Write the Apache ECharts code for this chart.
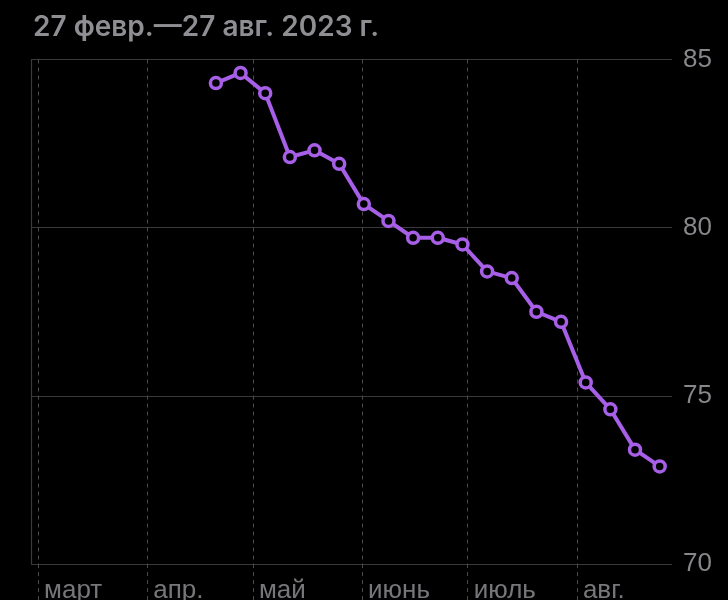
<!DOCTYPE html>
<html>
<head>
<meta charset="utf-8">
<script src="https://cdn.jsdelivr.net/npm/echarts@6/dist/echarts.min.js"></script>
<style>
html,body{margin:0;padding:0;background:#000;}
#c{width:728px;height:600px;}
</style>
</head>
<body>
<div id="c"></div>
<script>
const titleText = '27 февр.—27 авг. 2023 г.';
const monthLabels = ['янв.', 'февр.', 'март', 'апр.', 'май', 'июнь', 'июль', 'авг.', 'сент.', 'окт.', 'нояб.', 'дек.'];
const xMin = '2023-02-27 00:00';
const xMax = '2023-08-28 00:00';
const weekDates = [
  '2023-04-20 12:00', '2023-04-27 12:00', '2023-05-04 12:00', '2023-05-11 12:00',
  '2023-05-18 12:00', '2023-05-25 12:00', '2023-06-01 12:00', '2023-06-08 12:00',
  '2023-06-15 12:00', '2023-06-22 12:00', '2023-06-29 12:00', '2023-07-06 12:00',
  '2023-07-13 12:00', '2023-07-20 12:00', '2023-07-27 12:00', '2023-08-03 12:00',
  '2023-08-10 12:00', '2023-08-17 12:00', '2023-08-24 12:00'
];
const weightValues = [
  84.3, 84.6, 84.0, 82.1, 82.3, 81.9, 80.7, 80.2, 79.7, 79.7,
  79.5, 78.7, 78.5, 77.5, 77.2, 75.4, 74.6, 73.4, 72.9
];
const yTicks = [70, 75, 80, 85];

const chart = echarts.init(document.getElementById('c'), null, {renderer: 'canvas'});
const FONT = '"Liberation Sans", Arial, sans-serif';
const TFONT = 'Inter, "Liberation Sans", sans-serif';
const dashStyle = {color: '#4a4a4c', type: [4, 4], width: 1};
const baseTime = {
  type: 'time',
  min: xMin,
  max: xMax,
  splitNumber: 6,
  minInterval: 28 * 86400000,
  maxInterval: 31 * 86400000
};
chart.setOption({
  backgroundColor: '#000',
  animation: false,
  title: {
    text: titleText,
    left: 28,
    top: 9,
    textStyle: {color: '#8e8e93', fontSize: 28, fontWeight: 600, fontFamily: TFONT}
  },
  grid: [
    {left: 31, right: 56, top: 59.5, bottom: 36, containLabel: false, outerBoundsMode: 'none'},
    {left: 31, right: 56, top: 564, bottom: 0, containLabel: false, outerBoundsMode: 'none'}
  ],
  xAxis: [Object.assign({}, baseTime, {
    gridIndex: 0,
    axisLine: {show: false},
    axisTick: {show: false},
    splitLine: {show: true, showMinLine: false, showMaxLine: false, lineStyle: dashStyle},
    axisLabel: {
      color: '#77777b', fontSize: 26, fontFamily: FONT, align: 'left',
      margin: 14, padding: [0, 0, 0, 6],
      showMinLabel: false, showMaxLabel: false,
      formatter: function (v) {
        const d = new Date(v);
        return d.getDate() === 1 ? monthLabels[d.getMonth()] : '';
      }
    }
  }), Object.assign({}, baseTime, {
    gridIndex: 1,
    axisLine: {show: false},
    axisTick: {show: false},
    axisLabel: {show: false},
    splitLine: {show: true, showMinLine: false, showMaxLine: false, lineStyle: dashStyle}
  })],
  yAxis: [{
    type: 'value',
    gridIndex: 0,
    position: 'right',
    min: yTicks[0],
    max: yTicks[yTicks.length - 1],
    interval: 5,
    axisLine: {show: false},
    axisTick: {show: false},
    splitLine: {show: true, lineStyle: {color: '#3a3a3c', width: 1.2}},
    axisLabel: {color: '#86868b', fontSize: 26, fontFamily: FONT, margin: 11, padding: [3, 0, 0, 0]}
  }, {
    type: 'value',
    gridIndex: 0,
    position: 'left',
    min: yTicks[0],
    max: yTicks[yTicks.length - 1],
    interval: 5,
    axisLine: {show: true, lineStyle: {color: '#3a3a3c', width: 1.2}},
    axisTick: {show: false},
    splitLine: {show: false},
    axisLabel: {show: false}
  }, {
    type: 'value',
    gridIndex: 1,
    show: false
  }],
  series: [{
    type: 'line',
    xAxisIndex: 0,
    yAxisIndex: 0,
    data: weekDates.map((d, i) => [d, weightValues[i]]),
    symbol: 'circle',
    symbolSize: 11,
    showAllSymbol: true,
    lineStyle: {color: '#a75fe8', width: 4},
    itemStyle: {color: '#000', borderColor: '#a75fe8', borderWidth: 3.5}
  }]
});
</script>
</body>
</html>
